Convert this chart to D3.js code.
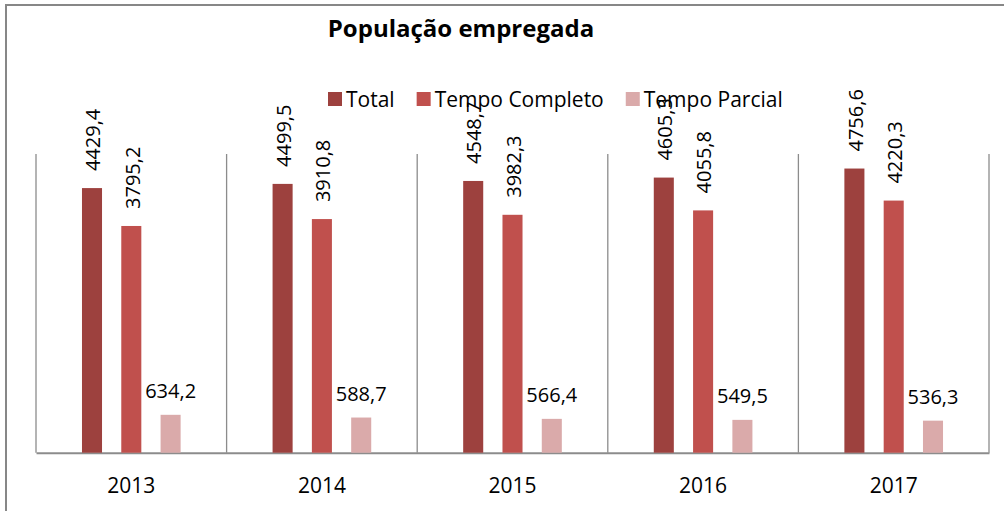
<!DOCTYPE html>
<html>
<head>
    <meta charset="UTF-8">
    <title>População empregada</title>
    <script src="https://d3js.org/d3.v7.min.js"></script>
    <style>
        body { margin: 0; background: #fff; }
        text { font-family: "Open Sans", sans-serif; fill: #000; }
    </style>
</head>
<body>
    <div class="canvas"></div>
    <script>
        // data
        const years = ["2013", "2014", "2015", "2016", "2017"];
        const seriesNames = ["Total", "Tempo Completo", "Tempo Parcial"];
        const total = [4429.4, 4499.5, 4548.7, 4605.3, 4756.6];
        const tempoCompleto = [3795.2, 3910.8, 3982.3, 4055.8, 4220.3];
        const tempoParcial = [634.2, 588.7, 566.4, 549.5, 536.3];
        const colors = ["#9D413E", "#C0504D", "#DAAAAA"];

        const width = 1004;
        const height = 511;
        const plot = { left: 36, right: 989, top: 154, bottom: 452.7 };

        const svg = d3.select(".canvas")
            .append("svg")
            .attr("width", width)
            .attr("height", height);

        // outer frame (right & bottom edges fall outside the picture)
        svg.append("rect")
            .attr("x", 6).attr("y", 5)
            .attr("width", 1100).attr("height", 600)
            .attr("fill", "none")
            .attr("stroke", "#878787")
            .attr("stroke-width", 2);

        const x0 = d3.scaleBand()
            .domain(years)
            .range([plot.left, plot.right]);

        const x1 = d3.scaleBand()
            .domain(seriesNames)
            .range([0, x0.bandwidth()])
            .paddingInner(0.49)
            .paddingOuter(1.17);

        const y = d3.scaleLinear()
            .domain([0, 5000])
            .range([plot.bottom, plot.top]);

        const color = d3.scaleOrdinal(seriesNames, colors);

        // category separators
        const edges = years.map(d => x0(d)).concat([x0.range()[1]]);
        svg.append("g").selectAll("line")
            .data(edges)
            .join("line")
            .attr("x1", d => d).attr("x2", d => d)
            .attr("y1", y(5000)).attr("y2", y(0))
            .attr("stroke", "#8c8c8c")
            .attr("stroke-width", 1.3);

        // baseline + year labels
        const xAxis = d3.axisBottom(x0).tickSize(0).tickPadding(25);
        const xAxisGroup = svg.append("g")
            .attr("transform", `translate(0, ${y(0)})`)
            .call(xAxis);
        xAxisGroup.select(".domain")
            .attr("stroke", "#8c8c8c")
            .attr("stroke-width", 2);
        xAxisGroup.selectAll("text")
            .style("font-family", "'Open Sans', sans-serif")
            .attr("font-size", 21)
            .attr("fill", "#000");

        // rows: one per year, with the three values
        const rows = years.map((yr, i) => ({
            year: yr,
            values: [total[i], tempoCompleto[i], tempoParcial[i]].map((v, j) => ({ key: seriesNames[j], value: v }))
        }));

        const groups = svg.append("g").selectAll("g")
            .data(rows)
            .join("g")
            .attr("transform", d => `translate(${x0(d.year)}, 0)`);

        groups.selectAll("rect")
            .data(d => d.values)
            .join("rect")
            .attr("x", d => x1(d.key))
            .attr("width", x1.bandwidth())
            .attr("y", d => y(d.value))
            .attr("height", d => y(0) - y(d.value))
            .attr("fill", d => color(d.key));

        const fmt = v => v.toFixed(1).replace(".", ",");

        // labels: rotated for the tall bars, flat for the short one
        groups.selectAll("text.lbl")
            .data(d => d.values)
            .join("text")
            .attr("class", "lbl")
            .attr("font-size", 20)
            .attr("transform", d => {
                const cx = x1(d.key) + x1.bandwidth() / 2;
                if (d.key === "Tempo Parcial") return `translate(${cx}, ${y(d.value) - 17})`;
                return `translate(${cx + 1}, ${y(d.value) - 17}) rotate(-90)`;
            })
            .attr("text-anchor", d => d.key === "Tempo Parcial" ? "middle" : "start")
            .attr("dy", d => d.key === "Tempo Parcial" ? 0 : "0.36em")
            .text(d => fmt(d.value));

        // title
        svg.append("text")
            .attr("x", 461)
            .attr("y", 37)
            .attr("text-anchor", "middle")
            .attr("font-size", 24)
            .attr("font-weight", "bold")
            .text("População empregada");

        // legend
        const legend = svg.append("g");
        let lx = 328;
        seriesNames.forEach(name => {
            legend.append("rect")
                .attr("x", lx).attr("y", 92)
                .attr("width", 14).attr("height", 14)
                .attr("fill", color(name));
            const t = legend.append("text")
                .attr("x", lx + 18)
                .attr("y", 107)
                .attr("font-size", 21)
                .text(name);
            lx = lx + 18 + t.node().getComputedTextLength() + 22;
        });
    </script>
</body>
</html>
